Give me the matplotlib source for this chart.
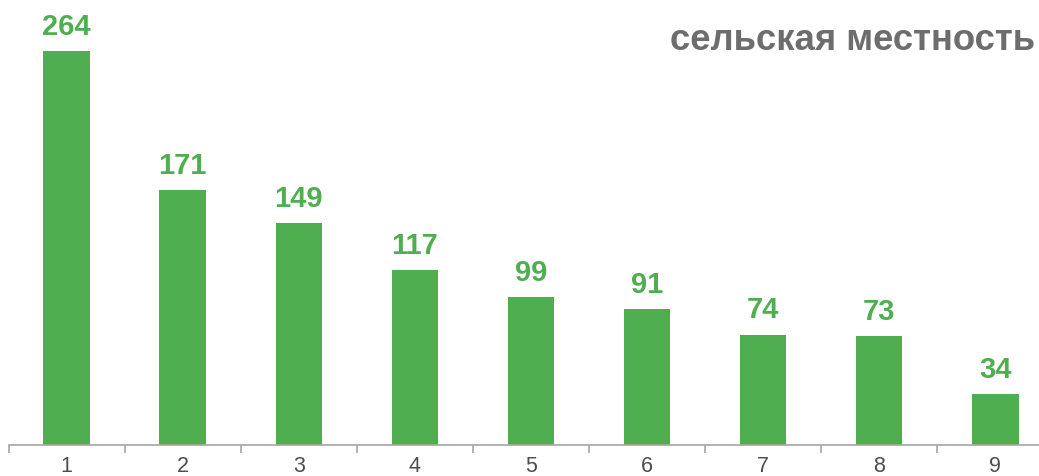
import matplotlib
matplotlib.use("Agg")
import matplotlib.pyplot as plt

categories = ["1", "2", "3", "4", "5", "6", "7", "8", "9"]
values = [264, 171, 149, 117, 99, 91, 74, 73, 34]
title = "сельская местность"

plt.rcParams['font.family'] = ['Liberation Sans', 'DejaVu Sans']

W, H = 1039, 477
fig = plt.figure(figsize=(W / 100, H / 100), dpi=100)
left = 8.5 / W
width = 9 * 116.1 / W
bottom = 31 / H
ax = fig.add_axes([left, bottom, width, 1 - bottom])

green = "#4fae50"
x = list(range(len(values)))
bars = ax.bar(x, values, width=0.4, color=green)
ax.set_xlim(-0.5, len(values) - 0.5)
ax.set_ylim(0, 446 / 1.4924)

for xi, v in zip(x, values):
    ax.annotate(str(v), (xi, v), xytext=(0, 8), textcoords="offset points",
                ha="center", va="bottom", fontsize=21, fontweight="bold", color=green)

for s in ["top", "right", "left"]:
    ax.spines[s].set_visible(False)
ax.spines["bottom"].set_color("#a6a6a6")
ax.spines["bottom"].set_linewidth(1.2)
ax.set_yticks([])
ax.set_xticks(x)
ax.set_xticklabels(categories, fontsize=15.5, color="#4d4d4d")
ax.tick_params(axis="x", which="major", length=0, pad=7.5)
ax.set_xticks([i - 0.5 for i in range(len(values) + 1)], minor=True)
ax.tick_params(axis="x", which="minor", length=6, color="#a6a6a6", width=1.2)

fig.text(1035 / W, 1 - 50 / H, title, ha="right", va="baseline",
         fontsize=26.3, fontweight="bold", color="#6d6d6d")

fig.savefig("out.png", dpi=100)
